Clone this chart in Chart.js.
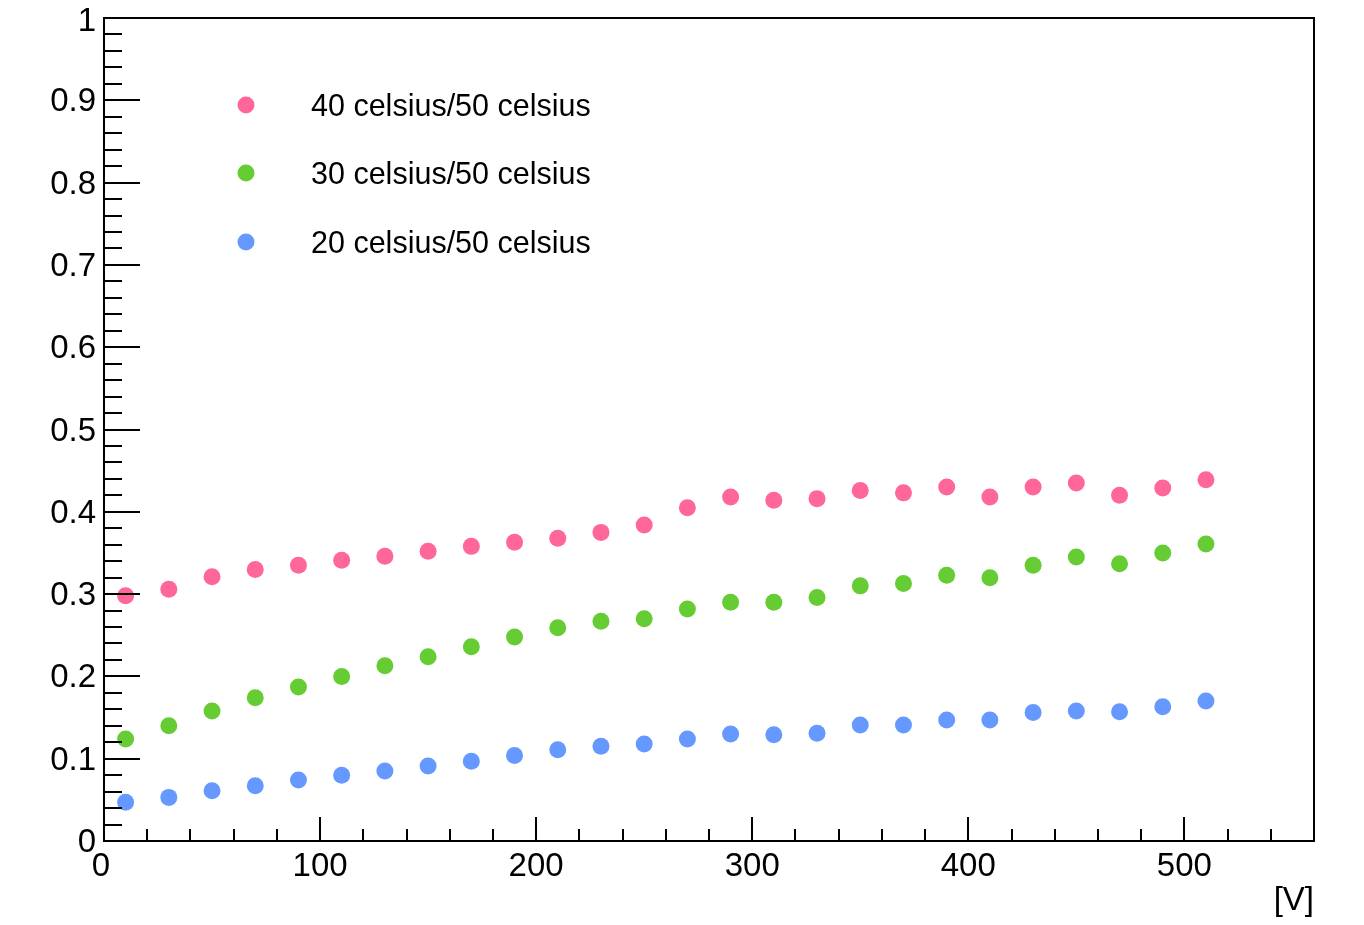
<!DOCTYPE html>
<html>
<head>
<meta charset="utf-8">
<script src="https://cdn.jsdelivr.net/npm/chart.js@4/dist/chart.umd.min.js"></script>
<style>
html,body{margin:0;padding:0;background:#fff;}
#wrap{width:1364px;height:925px;}
</style>
</head>
<body>
<div id="wrap"><canvas id="c" width="1364" height="925"></canvas></div>
<script>
const voltages = [10,30,50,70,90,110,130,150,170,190,210,230,250,270,290,310,330,350,370,390,410,430,450,470,490,510];
const ratio40 = [0.298,0.306,0.321,0.330,0.335,0.341,0.346,0.352,0.358,0.363,0.368,0.375,0.384,0.405,0.418,0.414,0.416,0.426,0.423,0.430,0.418,0.430,0.435,0.420,0.429,0.439];
const ratio30 = [0.124,0.140,0.158,0.174,0.187,0.200,0.213,0.224,0.236,0.248,0.259,0.267,0.270,0.282,0.290,0.290,0.296,0.310,0.313,0.323,0.320,0.335,0.345,0.337,0.350,0.361];
const ratio20 = [0.047,0.053,0.061,0.067,0.074,0.080,0.085,0.091,0.097,0.104,0.111,0.115,0.118,0.124,0.130,0.129,0.131,0.141,0.141,0.147,0.147,0.156,0.158,0.157,0.163,0.170];
const seriesLabels = ['40 celsius/50 celsius','30 celsius/50 celsius','20 celsius/50 celsius'];
const seriesColors = ['#ff6699','#66cc33','#6699ff'];
const xTickLabels = ['0','100','200','300','400','500'];
const yTickLabels = ['0','0.1','0.2','0.3','0.4','0.5','0.6','0.7','0.8','0.9','1'];
const xTitle = '[V]';

const FONT = '"Liberation Sans", Arial, Helvetica, sans-serif';

function mk(vals){ return voltages.map((v,i)=>({x:v,y:vals[i]})); }
const allSeries = [ratio40, ratio30, ratio20];

const rootAxes = {
  id:'rootAxes',
  afterDraw(chart){
    const ctx = chart.ctx, a = chart.chartArea;
    const xs = chart.scales.x, ys = chart.scales.y;
    ctx.save();
    ctx.strokeStyle = '#000';
    ctx.lineWidth = 2;
    ctx.strokeRect(a.left, a.top, a.right-a.left, a.bottom-a.top);
    ctx.beginPath();
    for (let k=0;k<=50;k++){
      const v = k*0.02;
      const py = Math.round(ys.getPixelForValue(v));
      const len = (k%5===0) ? 36 : 18;
      ctx.moveTo(a.left, py); ctx.lineTo(a.left+len, py);
    }
    for (let k=0;k<=28;k++){
      const v = k*20;
      const px = Math.round(xs.getPixelForValue(v));
      const len = (k%5===0) ? 24 : 12;
      ctx.moveTo(px, a.bottom); ctx.lineTo(px, a.bottom-len);
    }
    ctx.stroke();
    ctx.fillStyle = '#000';
    ctx.font = '33px ' + FONT;
    ctx.textAlign = 'right'; ctx.textBaseline = 'middle';
    yTickLabels.forEach(t=>{
      const v = parseFloat(t);
      let py = ys.getPixelForValue(v) + 2;
      if (v===1) py += 2;
      ctx.fillText(t, a.left-8, py);
    });
    ctx.textAlign = 'center'; ctx.textBaseline = 'top';
    xTickLabels.forEach(t=>{
      const v = parseFloat(t);
      let px = xs.getPixelForValue(v);
      if (v===0) px -= 3;
      ctx.fillText(t, px, a.bottom+9);
    });
    ctx.textAlign = 'right'; ctx.textBaseline = 'middle';
    ctx.fillText(xTitle, a.right, 901);
    ctx.font = '30.5px ' + FONT;
    ctx.textAlign = 'left'; ctx.textBaseline = 'middle';
    const rows = [105, 173, 242];
    chart.data.datasets.forEach((ds,i)=>{
      ctx.fillStyle = ds.backgroundColor;
      ctx.beginPath(); ctx.arc(246, rows[i], 8.5, 0, Math.PI*2); ctx.fill();
      ctx.fillStyle = '#000';
      ctx.fillText(ds.label, 311, rows[i]+3);
    });
    ctx.restore();
  }
};

new Chart(document.getElementById('c'), {
  type:'scatter',
  data:{
    datasets: allSeries.map((vals,i)=>({
      label: seriesLabels[i],
      data: mk(vals),
      backgroundColor: seriesColors[i],
      borderColor: seriesColors[i],
      pointRadius: 8.5,
      pointBorderWidth: 0,
      pointHoverRadius: 8.5
    }))
  },
  options:{
    responsive:false,
    animation:false,
    events:[],
    layout:{padding:{left:104,top:18,right:50,bottom:84}},
    plugins:{legend:{display:false},tooltip:{enabled:false}},
    scales:{
      x:{type:'linear',min:0,max:560,display:false},
      y:{type:'linear',min:0,max:1,display:false}
    }
  },
  plugins:[rootAxes]
});
</script>
</body>
</html>
